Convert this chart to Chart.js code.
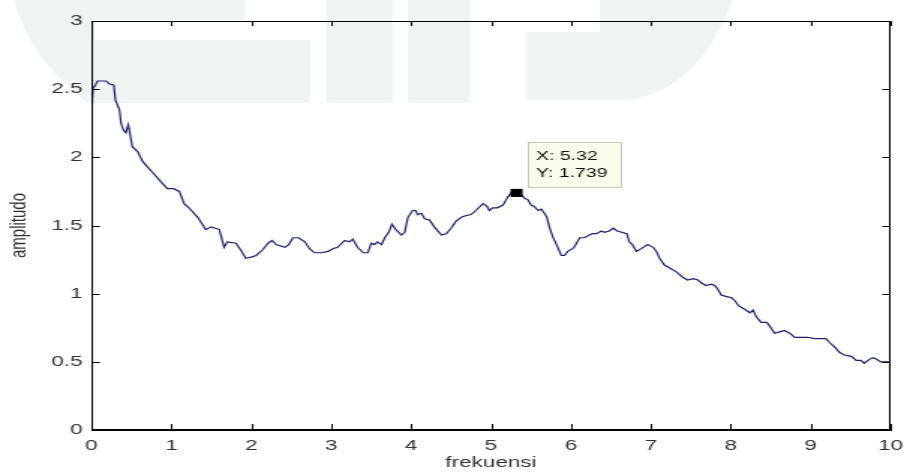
<!DOCTYPE html>
<html>
<head>
<meta charset="utf-8">
<script src="https://cdn.jsdelivr.net/npm/chart.js@4.4.1/dist/chart.umd.min.js"></script>
<style>
  html, body { margin: 0; padding: 0; background: #fff; overflow: hidden; }
  #myChart { transform-origin: 0 0; }
</style>
</head>
<body>
<canvas id="myChart" width="605" height="475"></canvas>
<script>
// frequency axis (x) and amplitude (y)
var freq = [0, 0.01, 0.02, 0.04, 0.075, 0.18, 0.22, 0.28, 0.30, 0.35, 0.37, 0.40, 0.43, 0.46, 0.48,
  0.51, 0.58, 0.64, 0.70, 0.78, 0.87, 0.95, 1.03, 1.10, 1.16, 1.22, 1.33, 1.43, 1.50, 1.60,
  1.66, 1.70, 1.81, 1.89, 1.93, 2.01, 2.06, 2.14, 2.21, 2.26, 2.31, 2.42, 2.47, 2.52, 2.59,
  2.67, 2.73, 2.79, 2.87, 2.96, 3.02, 3.08, 3.17, 3.23, 3.27, 3.33, 3.40, 3.46, 3.50, 3.54,
  3.58, 3.63, 3.67, 3.72, 3.76, 3.81, 3.88, 3.92, 3.96, 4.02, 4.06, 4.08, 4.13, 4.17, 4.23,
  4.29, 4.38, 4.44, 4.50, 4.56, 4.63, 4.67, 4.75, 4.81, 4.90, 4.95, 4.98, 5.02, 5.08, 5.15,
  5.19, 5.21, 5.27, 5.32, 5.36, 5.42, 5.46, 5.50, 5.54, 5.59, 5.63, 5.67, 5.70, 5.73, 5.77,
  5.82, 5.88, 5.92, 5.96, 6.02, 6.04, 6.11, 6.17, 6.23, 6.27, 6.32, 6.38, 6.42, 6.48, 6.53,
  6.58, 6.70, 6.73, 6.77, 6.82, 6.88, 6.96, 7.03, 7.07, 7.11, 7.17, 7.23, 7.32, 7.40, 7.46,
  7.53, 7.59, 7.63, 7.69, 7.76, 7.80, 7.84, 7.88, 7.94, 8.01, 8.05, 8.10, 8.13, 8.19, 8.24,
  8.28, 8.32, 8.38, 8.45, 8.49, 8.55, 8.61, 8.67, 8.74, 8.80, 8.88, 8.96, 9.05, 9.09, 9.19,
  9.24, 9.30, 9.36, 9.42, 9.51, 9.57, 9.63, 9.67, 9.74, 9.78, 9.82, 9.88, 10.0];
var amp = [2.40, 2.42, 2.51, 2.52, 2.56, 2.56, 2.54, 2.53, 2.42, 2.35, 2.25, 2.20, 2.18, 2.24, 2.18,
  2.08, 2.04, 1.97, 1.93, 1.88, 1.82, 1.77, 1.77, 1.75, 1.66, 1.63, 1.56, 1.47, 1.49, 1.47,
  1.34, 1.38, 1.37, 1.30, 1.26, 1.27, 1.28, 1.32, 1.37, 1.39, 1.36, 1.34, 1.36, 1.41, 1.41,
  1.38, 1.33, 1.30, 1.30, 1.31, 1.33, 1.34, 1.39, 1.38, 1.40, 1.34, 1.30, 1.30, 1.37, 1.36,
  1.38, 1.36, 1.41, 1.45, 1.51, 1.47, 1.43, 1.45, 1.56, 1.61, 1.61, 1.58, 1.59, 1.55, 1.54,
  1.49, 1.43, 1.44, 1.48, 1.53, 1.56, 1.57, 1.58, 1.61, 1.66, 1.64, 1.61, 1.63, 1.63, 1.65,
  1.69, 1.71, 1.75, 1.739, 1.74, 1.70, 1.69, 1.65, 1.64, 1.61, 1.62, 1.59, 1.56, 1.49, 1.42,
  1.36, 1.28, 1.28, 1.31, 1.33, 1.34, 1.41, 1.41, 1.43, 1.44, 1.44, 1.46, 1.45, 1.46, 1.48,
  1.46, 1.44, 1.38, 1.36, 1.31, 1.33, 1.36, 1.34, 1.31, 1.26, 1.21, 1.19, 1.16, 1.12, 1.10,
  1.11, 1.10, 1.08, 1.06, 1.07, 1.06, 1.03, 0.99, 0.98, 0.97, 0.95, 0.91, 0.90, 0.88, 0.86,
  0.88, 0.83, 0.79, 0.79, 0.76, 0.71, 0.72, 0.73, 0.71, 0.68, 0.68, 0.68, 0.67, 0.67, 0.67,
  0.64, 0.61, 0.57, 0.55, 0.54, 0.51, 0.51, 0.49, 0.52, 0.53, 0.52, 0.50, 0.50];

var xTicks = [0, 1, 2, 3, 4, 5, 6, 7, 8, 9, 10];
var yTicks = [0, 0.5, 1, 1.5, 2, 2.5, 3];

// data tip shown on the figure
var tipX = 5.32;
var tipY = 1.739;

// the original picture is stretched sideways, so draw narrow and scale the canvas
var S = 1.5;
var canvas = document.getElementById('myChart');
canvas.style.transform = 'scaleX(' + (907 / 605) + ')';

var points = freq.map((f, i) => ({x: f, y: amp[i]}));

// faint logo in the background (page coords, x squeezed by S)
const watermark = {
  id: 'watermark',
  beforeDraw(chart) {
    const ctx = chart.ctx;
    ctx.save();
    ctx.scale(1 / S, 1);
    ctx.fillStyle = '#eff3f1';
    ctx.beginPath();
    ctx.moveTo(14, 0); ctx.lineTo(245, 0); ctx.lineTo(245, 20); ctx.lineTo(95, 20);
    ctx.lineTo(95, 40); ctx.lineTo(310, 40); ctx.lineTo(310, 103); ctx.lineTo(88, 103);
    ctx.quadraticCurveTo(30, 60, 14, 0);
    ctx.closePath();
    ctx.fill();
    ctx.fillRect(327, 0, 66, 103);
    ctx.fillRect(408, 0, 62, 103);
    ctx.beginPath();
    ctx.moveTo(527, 32); ctx.lineTo(600, 32); ctx.lineTo(600, 0); ctx.lineTo(733, 0);
    ctx.quadraticCurveTo(700, 90, 628, 100); ctx.lineTo(527, 100);
    ctx.closePath();
    ctx.fill();
    ctx.restore();
  }
};

// matlab style box with ticks pointing inwards
const boxTicks = {
  id: 'boxTicks',
  afterDraw(chart) {
    const {ctx, chartArea: a, scales: {x, y}} = chart;
    const l = Math.round(a.left), r = Math.round(a.right);
    const t = Math.round(a.top), b = Math.round(a.bottom);
    ctx.save();
    ctx.fillStyle = '#000';
    ctx.fillRect(l, t, r - l, 1);
    ctx.fillRect(l, b - 1, r - l, 1);
    ctx.fillRect(l, t, 1, b - t);
    ctx.fillRect(r - 1, t, 1, b - t);
    x.ticks.forEach(tk => {
      const px = Math.round(x.getPixelForValue(tk.value));
      ctx.fillRect(px, b - 6, 1, 6);
      ctx.fillRect(px, t, 1, 5);
    });
    y.ticks.forEach(tk => {
      const py = Math.round(y.getPixelForValue(tk.value));
      ctx.fillRect(l, py, 5.5, 1);
      ctx.fillRect(r - 5.5, py, 5.5, 1);
    });
    ctx.restore();
  }
};

// the "X: / Y:" data tip box next to the marker
const dataTip = {
  id: 'dataTip',
  afterDraw(chart) {
    const pt = chart.getDatasetMeta(0).data[0];
    const ctx = chart.ctx;
    const bx = Math.round(pt.x + 7) + 0.5, by = Math.round(pt.y - 51) + 0.5;
    ctx.save();
    ctx.fillStyle = '#fbfbec';
    ctx.strokeStyle = '#c9c9ba';
    ctx.lineWidth = 1;
    ctx.fillRect(bx, by, 62, 45);
    ctx.strokeRect(bx, by, 62, 45);
    ctx.fillStyle = '#111';
    ctx.font = '13px "Liberation Sans", Arial, sans-serif';
    ctx.textBaseline = 'middle';
    ctx.fillText('X: ' + tipX, bx + 5, by + 14);
    ctx.fillText('Y: ' + tipY, bx + 5, by + 31);
    ctx.restore();
  }
};

var tickFont = {family: '"Liberation Sans", Arial, sans-serif', size: 15};

new Chart(canvas, {
  type: 'line',
  data: {
    datasets: [{
      data: [{x: tipX, y: tipY}],
      showLine: false,
      pointStyle: 'rect',
      pointRadius: 5.7,
      backgroundColor: '#000',
      borderColor: '#000',
      borderWidth: 0,
      order: 0
    }, {
      data: points,
      borderColor: '#1f1f72',
      borderWidth: 1.2,
      pointRadius: 0,
      tension: 0,
      fill: false,
      order: 1
    }]
  },
  options: {
    responsive: false,
    devicePixelRatio: 1,
    animation: false,
    layout: {padding: {top: 21, right: 11, bottom: 0, left: 0}},
    plugins: {legend: {display: false}, tooltip: {enabled: false}},
    scales: {
      x: {
        type: 'linear',
        min: 0, max: 10,
        afterBuildTicks: axis => { axis.ticks = xTicks.map(v => ({value: v})); },
        afterFit: axis => { axis.height = 45; axis.paddingLeft = 0; axis.paddingRight = 0; },
        grid: {display: false, drawTicks: false},
        border: {display: true, color: '#000', width: 1},
        ticks: {
          padding: 7,
          color: '#333',
          font: tickFont,
          callback: v => String(v),
          maxRotation: 0,
          autoSkip: false
        },
        title: {
          display: true, text: 'frekuensi', color: '#333',
          font: tickFont,
          padding: {top: 0, bottom: 3}
        }
      },
      y: {
        type: 'linear',
        min: 0, max: 3,
        afterBuildTicks: axis => { axis.ticks = yTicks.map(v => ({value: v})); },
        afterFit: axis => { axis.width = 61; axis.paddingTop = 0; axis.paddingBottom = 0; },
        grid: {display: false, drawTicks: false},
        border: {display: true, color: '#000', width: 1},
        ticks: {
          padding: 6,
          color: '#333',
          font: tickFont,
          callback: v => String(v)
        },
        title: {
          display: true, text: 'amplitudo', color: '#333',
          font: tickFont,
          padding: {top: 4, bottom: 0}
        }
      }
    }
  },
  plugins: [watermark, boxTicks, dataTip]
});
</script>
</body>
</html>
